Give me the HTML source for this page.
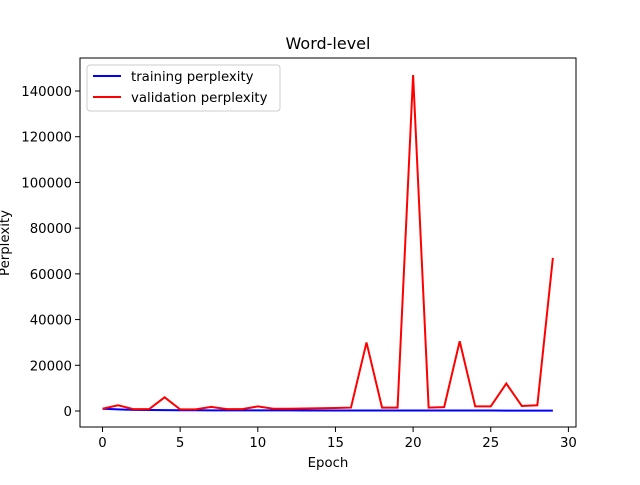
<!DOCTYPE html>
<html><head><meta charset="utf-8"><style>
body{margin:0;background:#fff;font-family:"Liberation Sans","DejaVu Sans",sans-serif}
text{font-family:"DejaVu Sans","Liberation Sans",sans-serif}
</style></head><body>
<svg id="chart" width="640" height="480" xmlns="http://www.w3.org/2000/svg">
<rect width="640" height="480" fill="#fff"/>
<text x="328" y="49" font-size="16" text-anchor="middle">Word-level</text>
<g id="plot"></g>
<rect x="80" y="58" width="496" height="369" fill="none" stroke="#000" stroke-width="1"/>
<text x="328" y="467" font-size="13.3" text-anchor="middle">Epoch</text>
<text transform="translate(9,243) rotate(-90)" font-size="13.3" text-anchor="middle">Perplexity</text>
<g>
<rect x="87" y="65" width="193" height="46" fill="#fff" fill-opacity="0.8" stroke="#ccc" rx="3"/>
<line x1="93" y1="76" x2="121" y2="76" stroke="#0000ff" stroke-width="2"/>
<text x="131" y="81" font-size="13.3">training perplexity</text>
<line x1="93" y1="97" x2="121" y2="97" stroke="#ff0000" stroke-width="2"/>
<text x="131" y="102" font-size="13.3">validation perplexity</text>
</g>
</svg>
<script>
const epochs=[0,1,2,3,4,5,6,7,8,9,10,11,12,13,14,15,16,17,18,19,20,21,22,23,24,25,26,27,28,29];
const training=[1000,700,500,450,400,350,320,300,290,280,270,260,250,245,240,235,230,225,220,215,210,205,200,200,195,195,190,190,185,185];
const validation=[1000,2500,800,800,6000,700,700,1800,800,800,2000,1000,1000,1100,1200,1300,1500,30000,1500,1500,147000,1500,1700,30500,2000,2000,12000,2200,2500,67000];
const xTicks=[0,5,10,15,20,25,30];
const yTicks=[0,20000,40000,60000,80000,100000,120000,140000];
const xs=v=>102.5+v*15.53;
const ys=v=>411-v*320/140000;
const NS="http://www.w3.org/2000/svg";
const g=document.getElementById('plot');
function mk(t,a){const e=document.createElementNS(NS,t);for(const k in a)e.setAttribute(k,a[k]);g.appendChild(e);return e;}
xTicks.forEach(t=>{
 const l=mk('line',{x1:xs(t),x2:xs(t),y1:427,y2:432,stroke:'#000','stroke-width':1});
 
 
 const tx=mk('text',{x:xs(t),y:447,'font-size':13.3,'text-anchor':'middle'});tx.textContent=t;
 
 
});
yTicks.forEach(t=>{
 const l=mk('line',{x1:75,x2:80,y1:ys(t),y2:ys(t),stroke:'#000','stroke-width':1});
 
 
 const tx=mk('text',{x:72,y:ys(t)+5,'font-size':13.3,'text-anchor':'end'});tx.textContent=t;
 
 
});
const p1=mk('polyline',{points:epochs.map((e,i)=>xs(e)+','+ys(training[i])).join(' '),fill:'none',stroke:'#0000ff','stroke-width':2});


const p2=mk('polyline',{points:epochs.map((e,i)=>xs(e)+','+ys(validation[i])).join(' '),fill:'none',stroke:'#ff0000','stroke-width':2});


</script>
</body></html>
